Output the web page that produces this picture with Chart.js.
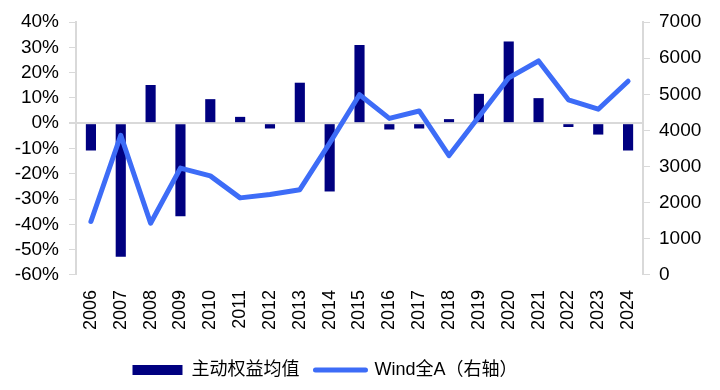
<!DOCTYPE html>
<html>
<head>
<meta charset="utf-8">
<script src="https://cdn.jsdelivr.net/npm/chart.js@4"></script>
<style>
  html, body { margin: 0; padding: 0; background: #fff; }
  #wrap { width: 720px; height: 390px; }
</style>
</head>
<body>
<div id="wrap"><canvas id="chart" width="720" height="390"></canvas></div>
<script>
// данные графика
const years = ['2006', '2007', '2008', '2009', '2010', '2011', '2012', '2013', '2014', '2015',
               '2016', '2017', '2018', '2019', '2020', '2021', '2022', '2023', '2024'];
const activeEquity = [-10.8, -52.8, 15.1, -36.8, 9.5, 2.5, -2.1, 16.0, -27.0, 30.9,
                      -2.5, -2.1, 1.6, 11.6, 32.3, 9.9, -1.5, -4.5, -10.8];
const windA = [1479, 3865, 1431, 2958, 2742, 2133, 2228, 2360, 3650, 4987,
               4333, 4538, 3303, 4378, 5455, 5922, 4847, 4586, 5360];
const leftTicks = [40, 30, 20, 10, 0, -10, -20, -30, -40, -50, -60];
const rightTicks = [7000, 6000, 5000, 4000, 3000, 2000, 1000, 0];
const seriesNames = ['主动权益均值', 'Wind全A（右轴）'];

const FONT = '"Liberation Sans", Arial, "Noto Sans CJK SC", sans-serif';
const AXIS = '#d9d9d9';

// легенда в оригинале сдвинута левее центра
const legendShift = {
    id: 'legendShift',
    afterLayout(chart) {
        chart.legend.left -= 35;
        chart.legend.right -= 35;
    }
};

const ctx = document.getElementById('chart').getContext('2d');
new Chart(ctx, {
    data: {
        labels: years,
        datasets: [
            {
                type: 'line',
                label: seriesNames[1],
                data: windA,
                yAxisID: 'y1',
                borderColor: '#3d6cf7',
                backgroundColor: '#3d6cf7',
                borderWidth: 5,
                pointRadius: 0,
                tension: 0,
                borderJoinStyle: 'round',
                borderCapStyle: 'round',
                order: 0
            },
            {
                type: 'bar',
                label: seriesNames[0],
                data: activeEquity,
                yAxisID: 'y',
                backgroundColor: '#000080',
                categoryPercentage: 1,
                barPercentage: 0.34,
                order: 1
            }
        ]
    },
    plugins: [legendShift],
    options: {
        responsive: false,
        animation: false,
        layout: { padding: { top: 22, bottom: 1, left: 0, right: 0 } },
        plugins: {
            tooltip: { enabled: false },
            legend: {
                position: 'bottom',
                reverse: true,
                labels: {
                    usePointStyle: true,
                    pointStyleWidth: 50,
                    boxHeight: 10,
                    padding: 16,
                    color: '#000',
                    font: { family: FONT, size: 18 },
                    generateLabels: chart => [
                        {
                            text: seriesNames[1], datasetIndex: 0,
                            pointStyle: 'line', strokeStyle: '#3d6cf7', fillStyle: '#3d6cf7',
                            lineWidth: 5, lineCap: 'round', fontColor: '#000'
                        },
                        {
                            text: seriesNames[0], datasetIndex: 1,
                            pointStyle: 'rect', strokeStyle: '#000080', fillStyle: '#000080',
                            lineWidth: 0, fontColor: '#000'
                        }
                    ]
                }
            }
        },
        scales: {
            x: {
                grid: { display: false, drawTicks: false },
                border: { display: false },
                ticks: {
                    color: '#000',
                    font: { family: FONT, size: 18 },
                    minRotation: 90,
                    maxRotation: 90,
                    autoSkip: false,
                    padding: 15
                }
            },
            y: {
                position: 'left',
                min: -60,
                max: 40,
                afterBuildTicks: axis => { axis.ticks = leftTicks.map(v => ({ value: v })); },
                afterFit: axis => { axis.width = 76; },
                grid: {
                    drawOnChartArea: true,
                    color: c => (c.tick && c.tick.value === 0) ? AXIS : 'rgba(0,0,0,0)',
                    lineWidth: c => (c.tick && c.tick.value === 0) ? 2 : 1,
                    tickColor: AXIS,
                    tickLength: 7
                },
                border: { color: AXIS, width: 2 },
                ticks: {
                    autoSkip: false,
                    color: '#000',
                    font: { family: FONT, size: 19 },
                    padding: 10,
                    callback: v => v + '%'
                }
            },
            y1: {
                position: 'right',
                min: 0,
                max: 7000,
                afterBuildTicks: axis => { axis.ticks = rightTicks.map(v => ({ value: v })); },
                afterFit: axis => { axis.width = 77; },
                grid: {
                    drawOnChartArea: false,
                    tickColor: AXIS,
                    tickLength: 7
                },
                border: { color: AXIS, width: 2 },
                ticks: {
                    autoSkip: false,
                    color: '#000',
                    font: { family: FONT, size: 19 },
                    padding: 9,
                    callback: v => String(v)
                }
            }
        }
    }
});
</script>
</body>
</html>
